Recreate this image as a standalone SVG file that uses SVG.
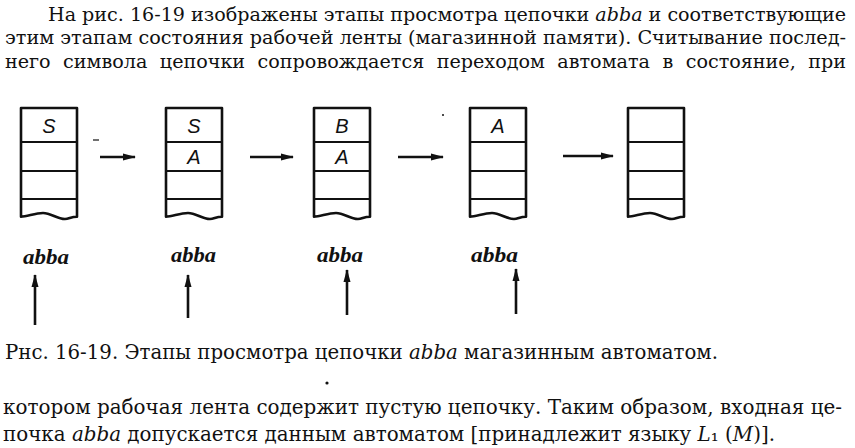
<svg xmlns="http://www.w3.org/2000/svg" xmlns:xlink="http://www.w3.org/1999/xlink" width="855" height="448" viewBox="0 0 855 448">
<style>
.para{font-family:"DejaVu Serif","Liberation Serif",serif;font-size:18px;fill:#111}
.cond{font-family:"DejaVu Serif","Liberation Serif",serif;font-size:20px;fill:#111}
.it{font-style:italic}
.cell{font-family:"Liberation Sans","DejaVu Sans",sans-serif;font-style:italic;font-size:20px;fill:#111;text-anchor:middle}
.word{font-family:"Liberation Serif","DejaVu Serif",serif;font-style:italic;font-weight:bold;font-size:20px;fill:#111}
.frame{fill:none;stroke:#111;stroke-width:2.6;stroke-linejoin:round}
.rule{stroke:#111;stroke-width:2.2}
.arr{stroke:#111;stroke-width:2.6;fill:none}
</style>
<defs>
<marker id="head" markerUnits="userSpaceOnUse" markerWidth="14" markerHeight="10" refX="12" refY="4" orient="auto">
<path d="M0,0.5 L13,4 L0,7.5 Z" fill="#111"/>
</marker>
<g id="stackShape">
<path class="frame" d="M0,0 H56 V108.7 C50,108.7 48,111 44,111 C36,111 30,105 22,105 C14,105 6,108.7 0,108.7 Z"/>
<line class="rule" x1="0" y1="34" x2="56" y2="34"/>
<line class="rule" x1="0" y1="63" x2="56" y2="63"/>
<line class="rule" x1="0" y1="91" x2="56" y2="91"/>
</g>
</defs>
<rect width="855" height="448" fill="#fff"/>

<g id="text-top">
<text class="para" x="48" y="21" textLength="798" lengthAdjust="spacingAndGlyphs">На рис. 16-19 изображены этапы просмотра цепочки <tspan class="it">abba</tspan> и соответствующие</text>
<text class="para" x="5" y="44" textLength="841" lengthAdjust="spacingAndGlyphs">этим этапам состояния рабочей ленты (магазинной памяти). Считывание послед-</text>
<text class="para" x="5" y="68" textLength="841" lengthAdjust="spacingAndGlyphs" word-spacing="6">него символа цепочки сопровождается переходом автомата в состояние, при</text>
</g>

<g id="stack1" transform="translate(21,108)">
<use xlink:href="#stackShape"/>
<text class="cell" x="28" y="25">S</text>
</g>
<g id="stack2" transform="translate(166,108)">
<use xlink:href="#stackShape"/>
<text class="cell" x="28" y="25">S</text>
<text class="cell" x="28" y="56">A</text>
</g>
<g id="stack3" transform="translate(314,108)">
<use xlink:href="#stackShape"/>
<text class="cell" x="28" y="25">B</text>
<text class="cell" x="28" y="56">A</text>
</g>
<g id="stack4" transform="translate(470,108)">
<use xlink:href="#stackShape"/>
<text class="cell" x="28" y="25">A</text>
</g>
<g id="stack5" transform="translate(628,108)">
<use xlink:href="#stackShape"/>
</g>

<g id="label1"><text class="word" x="23" y="264" textLength="46" lengthAdjust="spacingAndGlyphs">abba</text></g>
<g id="label2"><text class="word" x="171" y="262" textLength="45" lengthAdjust="spacingAndGlyphs">abba</text></g>
<g id="label3"><text class="word" x="317" y="262" textLength="46" lengthAdjust="spacingAndGlyphs">abba</text></g>
<g id="label4"><text class="word" x="471" y="262" textLength="47" lengthAdjust="spacingAndGlyphs">abba</text></g>

<g id="connectors">
<line class="arr" x1="100" y1="157" x2="135" y2="157" marker-end="url(#head)"/>
<line class="arr" x1="250" y1="157" x2="293" y2="157" marker-end="url(#head)"/>
<line class="arr" x1="398" y1="157" x2="443" y2="157" marker-end="url(#head)"/>
<line class="arr" x1="563" y1="156" x2="613" y2="156" marker-end="url(#head)"/>
<line class="arr" x1="35" y1="325" x2="35" y2="275" marker-end="url(#head)"/>
<line class="arr" x1="188" y1="318" x2="188" y2="275" marker-end="url(#head)"/>
<line class="arr" x1="347" y1="315" x2="347" y2="270" marker-end="url(#head)"/>
<line class="arr" x1="516" y1="314" x2="516" y2="269" marker-end="url(#head)"/>
</g>

<g id="specks">
<line x1="93" y1="140" x2="99" y2="140" stroke="#111" stroke-width="1.2"/>
<circle cx="443" cy="115" r="1" fill="#111"/>
<circle cx="327" cy="383" r="1.6" fill="#111"/>
</g>

<g id="caption">
<text class="cond" x="5" y="359" textLength="713" lengthAdjust="spacingAndGlyphs" font-size="19">Рнс. 16-19. Этапы просмотра цепочки <tspan class="it">abba</tspan> магазинным автоматом.</text>
</g>

<g id="text-bottom">
<text class="cond" x="3" y="414" textLength="839" lengthAdjust="spacingAndGlyphs">котором рабочая лента содержит пустую цепочку. Таким образом, входная це-</text>
<text class="cond" x="3" y="441" textLength="772" lengthAdjust="spacingAndGlyphs">почка <tspan class="it">abba</tspan> допускается данным автоматом [принадлежит языку <tspan class="it">L</tspan>₁ (<tspan class="it">M</tspan>)].</text>
</g>
</svg>
